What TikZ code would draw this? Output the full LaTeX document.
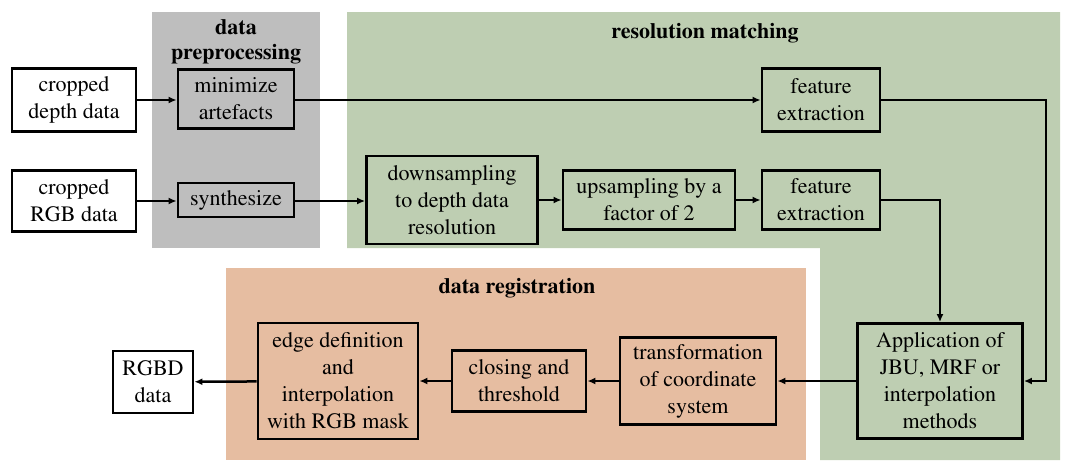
\documentclass[tikz,border=0pt]{standalone}
\usepackage[T1]{fontenc}
\usepackage{mathptmx}
\usetikzlibrary{arrows.meta}

\definecolor{prepgray}{RGB}{190,190,190}
\definecolor{matchgreen}{RGB}{190,206,178}
\definecolor{regsalmon}{RGB}{230,189,161}

\begin{document}
\begin{tikzpicture}
	[x=1pt,y=-1pt,
	 font=\fontsize{22}{27}\selectfont,
	 io/.style={draw,line width=2.8pt,fill=white,align=center,inner sep=2pt},
	 proc/.style={io,fill=#1},
	 title/.style={font=\fontsize{22}{25}\selectfont\bfseries,align=center},
	 flow/.style={line width=2.5pt,-{Latex[length=8pt,width=7pt]}}]
    \useasboundingbox (0,0) rectangle (1065,461);

    % stage backgrounds
    \fill[prepgray] (152,12) rectangle (320,248);
    \fill[matchgreen] (347,12) -- (1060,12) -- (1060,460) -- (820,460)
        -- (820,248) -- (347,248) -- cycle;
    \fill[regsalmon] (226,268) rectangle (806,460);

    \node[title] (prep) at (236,42) {data\\preprocessing};
    \node[title] (match) at (705,33) {resolution matching};
    \node[title] (reg) at (517,288) {data registration};

    % inputs and output
    \node[io,minimum width=124pt,minimum height=63pt] (depth) at (74,100) {cropped\\depth data};
    \node[io,minimum width=124pt,minimum height=61pt] (rgb) at (74,201) {cropped\\RGB data};
    \node[io,minimum width=80pt,minimum height=62pt] (rgbd) at (153,382) {RGBD\\data};

    % preprocessing
    \node[proc=prepgray,minimum width=116pt,minimum height=59pt] (minart) at (236,99) {minimize\\artefacts};
    \node[proc=prepgray,minimum width=116pt,minimum height=34pt] (synth) at (236,200) {synthesize};

    % resolution matching
    \node[proc=matchgreen,minimum width=118pt,minimum height=63pt] (feat1) at (821,100) {feature\\extraction};
    \node[proc=matchgreen,minimum width=171pt,minimum height=88pt] (down) at (452,200) {downsampling\\to depth data\\resolution};
    \node[proc=matchgreen,minimum width=172pt,minimum height=59pt] (up) at (649,200) {upsampling by a\\factor of 2};
    \node[proc=matchgreen,minimum width=118pt,minimum height=59pt] (feat2) at (821,200) {feature\\extraction};
    \node[proc=matchgreen,minimum width=165pt,minimum height=115pt] (app) at (940,381) {Application of\\JBU, MRF or\\interpolation\\methods};

    % registration
    \node[proc=regsalmon,minimum width=156pt,minimum height=87pt] (trans) at (698,381) {transformation\\of coordinate\\system};
    \node[proc=regsalmon,minimum width=134pt,minimum height=61pt] (close) at (519,381) {closing and\\threshold};
    \node[proc=regsalmon,minimum width=160pt,minimum height=116pt] (edge) at (338,381) {edge definition\\and\\interpolation\\with RGB mask};

    \draw[flow] (depth) -- (minart.west |- depth);
    \draw[flow] (minart.east |- depth) -- (feat1);
    \draw[flow] (rgb) -- (synth.west |- rgb);
    \draw[flow] (synth.east |- rgb) -- (down.west |- rgb);
    \draw[flow] (down) -- (up);
    \draw[flow] (up) -- (feat2);
    \draw[flow] (feat2.east) -| (app.north);
    \draw[flow] (feat1.east) -- (1046,100) |- (app.east);
    \draw[flow] (app) -- (trans);
    \draw[flow] (trans) -- (close);
    \draw[flow] (close) -- (edge);
    \draw[flow] (edge) -- (rgbd);

\end{tikzpicture}
\end{document}
